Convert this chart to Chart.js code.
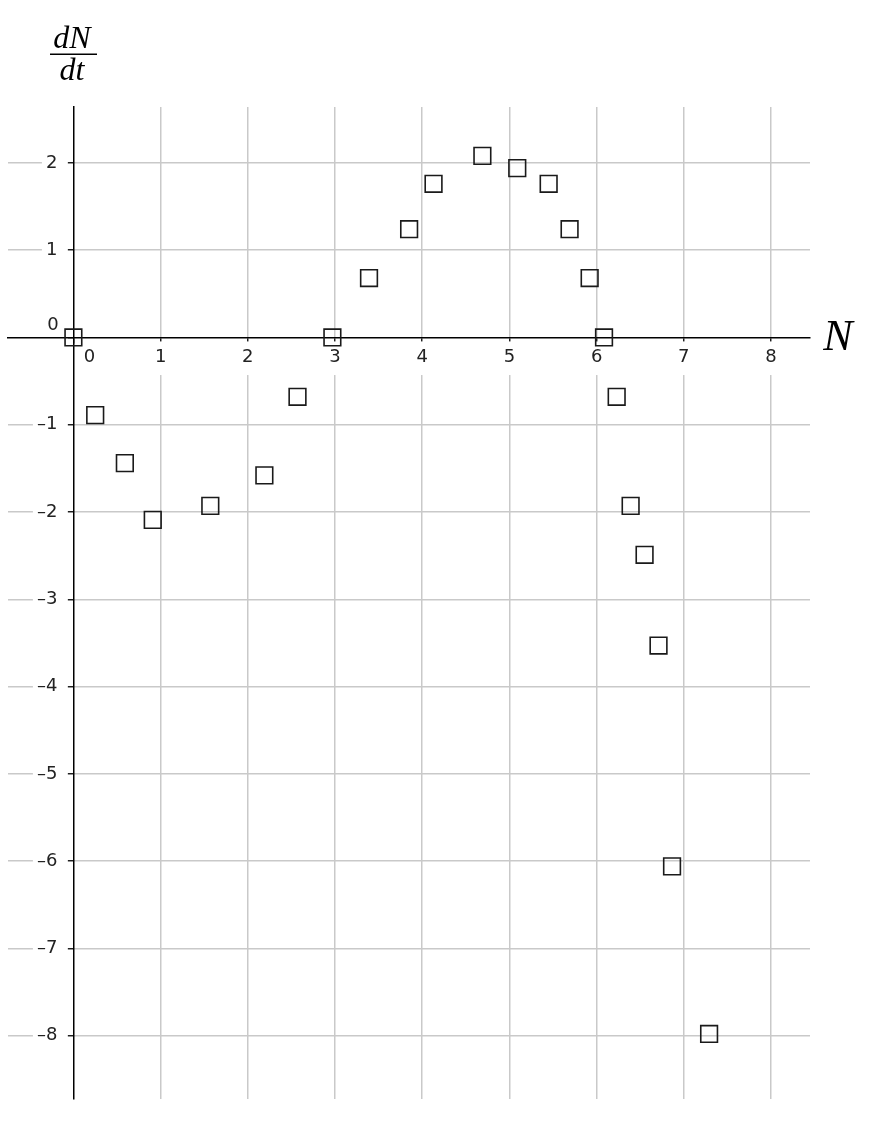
<!DOCTYPE html>
<html>
<head>
<meta charset="utf-8">
<script src="https://cdn.jsdelivr.net/npm/chart.js@4"></script>
<style>
  body { margin: 0; background: #fff; }
  canvas { display: block; }
</style>
</head>
<body>
<canvas id="myChart" width="884" height="1122"></canvas>
<script>
"use strict";

// population N and growth rate dN/dt
const nValues = [0, 0.25, 0.59, 0.91, 1.57, 2.19, 2.57, 2.97, 3.39, 3.85, 4.13, 4.69,
  5.09, 5.45, 5.69, 5.92, 6.085, 6.23, 6.39, 6.55, 6.71, 6.865, 7.29];
const rateValues = [0, -0.89, -1.44, -2.09, -1.93, -1.58, -0.68, 0, 0.68, 1.24, 1.76, 2.08,
  1.94, 1.76, 1.24, 0.68, 0, -0.68, -1.93, -2.49, -3.53, -6.06, -7.98];
const xTicks = [0, 1, 2, 3, 4, 5, 6, 7, 8];
const yTicks = [-8, -7, -6, -5, -4, -3, -2, -1, 0, 1, 2];

const points = [];
for (let i = 0; i < nValues.length; i++) {
  points.push({ x: nValues[i], y: rateValues[i] });
}

function fmt(v) {
  if (v === 0) return '';
  return v < 0 ? '\u2013' + (-v) : String(v);
}

const tickFont = { family: 'DejaVu Sans', size: 18 };
const gridColor = '#c9c9c9';
const yMin = -8.725;
const yMax = 2.64;

function noSpace(scale) {
  if (scale.isHorizontal()) scale.height = 0; else scale.width = 0;
  scale.paddingLeft = 0;
  scale.paddingRight = 0;
  scale.paddingTop = 0;
  scale.paddingBottom = 0;
}

// zero labels and the axis names, placed like the original
const extraText = {
  id: 'extraText',
  afterDraw(chart) {
    const ctx = chart.ctx;
    const xs = chart.scales.x;
    const ys = chart.scales.y;
    const x0 = xs.getPixelForValue(0);
    const y0 = ys.getPixelForValue(0);
    ctx.save();
    ctx.fillStyle = '#222';
    ctx.textAlign = 'center';
    ctx.textBaseline = 'middle';
    ctx.font = '18px "DejaVu Sans"';
    ctx.fillText('0', x0 + 16, y0 + 20);
    ctx.fillText('0', x0 - 20.5, y0 - 12);

    ctx.fillStyle = '#000';
    ctx.font = 'italic 32px "Liberation Serif"';
    ctx.fillText('dN', 72, 40);
    ctx.fillRect(50, 53.5, 47, 1.5);
    ctx.fillText('dt', 72, 72);
    ctx.font = 'italic 44px "Liberation Serif"';
    ctx.fillText('N', xs.right + 28, y0 + 1);
    ctx.restore();
  }
};

const data = {
  datasets: [{
    label: 'dN/dt',
    data: points,
    pointStyle: 'rect',
    pointRadius: 11.8,
    pointHoverRadius: 11.8,
    pointBorderWidth: 1.6,
    borderColor: '#1a1a1a',
    backgroundColor: 'rgba(0,0,0,0)',
    showLine: false
  }]
};

const config = {
  type: 'scatter',
  data: data,
  options: {
    responsive: false,
    animation: false,
    layout: {
      autoPadding: false,
      padding: { left: 8, right: 74, top: 107, bottom: 23 }
    },
    plugins: {
      legend: { display: false },
      tooltip: { enabled: false }
    },
    scales: {
      x: {
        type: 'linear',
        position: { y: 0 },
        min: -0.75,
        max: 8.447,
        afterBuildTicks: function (scale) {
          scale.ticks = xTicks.map(v => ({ value: v }));
        },
        afterFit: noSpace,
        grid: {
          color: c => (c.tick && c.tick.value === 0) ? 'rgba(0,0,0,0)' : gridColor,
          lineWidth: 1.5,
          tickColor: '#000',
          tickLength: 5,
          tickWidth: 1.2
        },
        border: { display: true, color: '#000', width: 1.5 },
        ticks: {
          autoSkip: false,
          maxRotation: 0,
          padding: 4,
          color: '#222',
          font: tickFont,
          callback: fmt,
          showLabelBackdrop: c => c.tick.value !== 0,
          backdropColor: '#fff',
          backdropPadding: { top: 5, bottom: 7, left: 3, right: 3 }
        }
      },
      // the y axis itself: line, grid and small tick marks
      y: {
        type: 'linear',
        position: { x: 0 },
        min: yMin,
        max: yMax,
        afterBuildTicks: function (scale) {
          scale.ticks = yTicks.map(v => ({ value: v }));
        },
        afterFit: noSpace,
        grid: {
          color: c => (c.tick && c.tick.value === 0) ? 'rgba(0,0,0,0)' : gridColor,
          lineWidth: 1.5,
          tickColor: '#000',
          tickLength: 5,
          tickWidth: 1.2
        },
        border: { display: true, color: '#000', width: 1.5 },
        ticks: { display: false }
      },
      // the y tick labels, set a little left of the axis line
      yLabels: {
        type: 'linear',
        axis: 'y',
        position: { x: -0.184 },
        min: yMin,
        max: yMax,
        afterBuildTicks: function (scale) {
          scale.ticks = yTicks.map(v => ({ value: v }));
        },
        afterFit: noSpace,
        grid: { display: false },
        border: { display: false },
        ticks: {
          autoSkip: false,
          padding: 0,
          color: '#222',
          font: tickFont,
          callback: fmt,
          showLabelBackdrop: c => c.tick.value !== 0,
          backdropColor: '#fff',
          backdropPadding: { top: 1, bottom: 1, left: 4, right: 10 }
        }
      }
    }
  },
  plugins: [extraText]
};

const myChart = new Chart(document.getElementById('myChart'), config);
</script>
</body>
</html>
